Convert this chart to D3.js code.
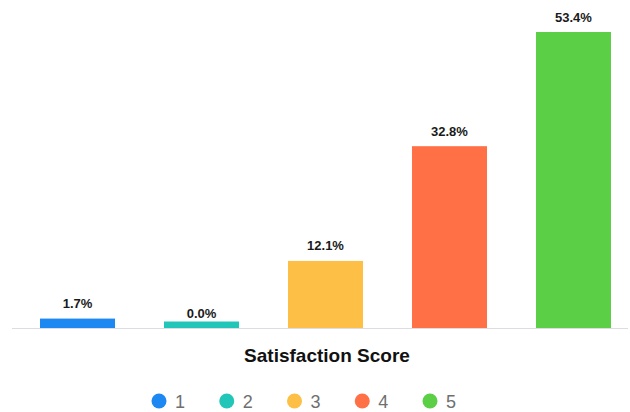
<!DOCTYPE html>
<html>
<head>
<meta charset="utf-8">
<script src="https://cdn.jsdelivr.net/npm/d3@7"></script>
<style>
  html, body { margin: 0; padding: 0; background: #fff; }
  svg { display: block; font-family: "Liberation Sans", Arial, Helvetica, sans-serif; }
</style>
</head>
<body>
<svg id="chart" width="630" height="412"></svg>
<script>
// Satisfaction score distribution (share of responses, %)
const categories = ["1", "2", "3", "4", "5"];
const values = [1.7, 0.0, 12.1, 32.8, 53.4];
const colors = ["#1E88F2", "#22C6B9", "#FDBF45", "#FF7046", "#5BCF46"];
const axisTitle = "Satisfaction Score";

const svg = d3.select("#chart");

const x = d3.scaleBand()
  .domain(categories)
  .range([2.8, 648.2])
  .paddingInner(0.395)
  .paddingOuter(0.3);

const baseY = 328;
const y = d3.scaleLinear()
  .domain([0, 53.4])
  .range([baseY, 32]);

const minStub = 6.5; // keep zero-value bars visible as a thin stub

// baseline
svg.append("line")
  .attr("x1", 12).attr("x2", 628)
  .attr("y1", baseY + 0.5).attr("y2", baseY + 0.5)
  .attr("stroke", "#dcdde2").attr("stroke-width", 1);

const data = categories.map((c, i) => ({ c, v: values[i], color: colors[i] }));

svg.append("g").selectAll("rect")
  .data(data)
  .join("rect")
  .attr("x", d => x(d.c))
  .attr("width", x.bandwidth())
  .attr("y", d => baseY - Math.max(y(0) - y(d.v), minStub))
  .attr("height", d => Math.max(y(0) - y(d.v), minStub))
  .attr("fill", d => d.color);

svg.append("g").selectAll("text")
  .data(data)
  .join("text")
  .attr("x", d => x(d.c) + x.bandwidth() / 2)
  .attr("y", d => y(d.v) - 10.5)
  .attr("text-anchor", "middle")
  .attr("font-size", 13)
  .attr("font-weight", "bold")
  .attr("fill", "#1a1a1a")
  .text(d => d.v.toFixed(1) + "%");

// axis title
svg.append("text")
  .attr("x", 327)
  .attr("y", 362)
  .attr("text-anchor", "middle")
  .attr("font-size", 19)
  .attr("font-weight", "bold")
  .attr("fill", "#111")
  .text(axisTitle);

// legend
const legendX = d3.scalePoint()
  .domain(categories)
  .range([159, 430]);

const lg = svg.append("g").selectAll("g")
  .data(data)
  .join("g")
  .attr("transform", d => `translate(${legendX(d.c)},401)`);

lg.append("circle")
  .attr("r", 7.5)
  .attr("fill", d => d.color);

lg.append("text")
  .attr("x", 16)
  .attr("y", 6.5)
  .attr("font-size", 18)
  .attr("fill", "#6f6f6f")
  .text(d => d.c);
</script>
</body>
</html>
